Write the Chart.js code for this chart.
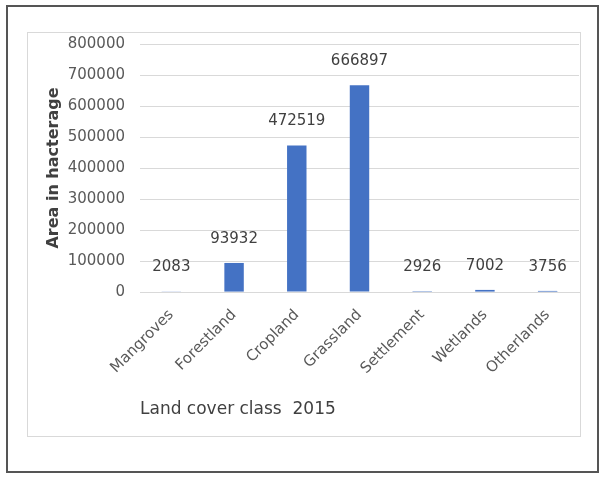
<!DOCTYPE html>
<html>
<head>
<meta charset="utf-8">
<script src="https://cdn.jsdelivr.net/npm/chart.js@4/dist/chart.umd.min.js"></script>
<style>
  html, body { margin: 0; padding: 0; background: #fff; }
  #wrap { position: relative; width: 601px; height: 477px; overflow: hidden; }
  #outer { position: absolute; left: 6px; top: 5px; width: 589px; height: 464px; border: 2px solid #555; box-sizing: content-box; }
  #inner { position: absolute; left: 27px; top: 32px; width: 552px; height: 403px; border: 1px solid #d9d9d9; }
  canvas { position: absolute; left: 0; top: 0; }
</style>
</head>
<body>
<div id="wrap">
  <div id="outer"></div>
  <div id="inner"></div>
  <canvas id="c" width="601" height="477"></canvas>
</div>
<script>
const categories = ["Mangroves", "Forestland", "Cropland", "Grassland", "Settlement", "Wetlands", "Otherlands"];
const areaValues = [2083, 93932, 472519, 666897, 2926, 7002, 3756];
const yTickMax = 800000;
const yTickStep = 100000;
const yAxisTitle = "Area in hacterage";
const xAxisTitle = "Land cover class  2015";

const FONT = '"DejaVu Sans", sans-serif';

const valueLabels = {
  id: 'valueLabels',
  afterDatasetsDraw(chart) {
    const ctx = chart.ctx;
    const meta = chart.getDatasetMeta(0);
    ctx.save();
    ctx.font = '15px ' + FONT;
    ctx.fillStyle = '#404040';
    ctx.textAlign = 'center';
    ctx.textBaseline = 'middle';
    meta.data.forEach((bar, i) => {
      ctx.fillText(String(chart.data.datasets[0].data[i]), bar.x, bar.y - 24);
    });
    ctx.restore();
  }
};

new Chart(document.getElementById('c'), {
  type: 'bar',
  data: {
    labels: categories,
    datasets: [{
      data: areaValues,
      backgroundColor: '#4472C4',
      borderWidth: 0,
      categoryPercentage: 1.0,
      barPercentage: 0.31
    }]
  },
  options: {
    responsive: false,
    animation: false,
    devicePixelRatio: 1,
    layout: { padding: { left: 37, top: 44, right: 22, bottom: 57 } },
    plugins: {
      legend: { display: false },
      tooltip: { enabled: false }
    },
    scales: {
      x: {
        afterFit(scale) { scale.paddingLeft = 0; scale.paddingRight = 0; },
        grid: { display: false, drawTicks: false },
        border: { display: true, color: '#d9d9d9' },
        ticks: {
          color: '#595959',
          font: { family: FONT, size: 15 },
          minRotation: 45,
          maxRotation: 45,
          padding: 14
        },
        title: {
          display: true,
          text: xAxisTitle,
          align: 'start',
          color: '#404040',
          font: { family: FONT, size: 17 },
          padding: { top: 8, bottom: 0 }
        }
      },
      y: {
        afterFit(scale) { scale.width = 103; },
        min: 0,
        max: yTickMax,
        grid: { color: '#d9d9d9', drawTicks: false },
        border: { display: false },
        ticks: {
          stepSize: yTickStep,
          color: '#595959',
          font: { family: FONT, size: 15 },
          padding: 15,
          callback: v => String(v)
        },
        title: {
          display: true,
          text: yAxisTitle,
          color: '#404040',
          font: { family: FONT, size: 16, weight: 'bold' },
          padding: { top: 7, bottom: 0 }
        }
      }
    }
  },
  plugins: [valueLabels]
});
</script>
</body>
</html>
